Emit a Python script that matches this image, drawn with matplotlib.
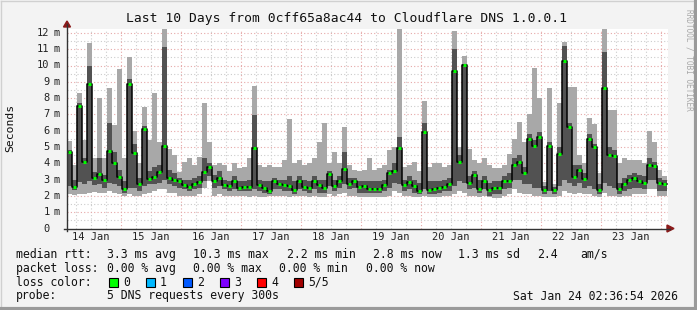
import matplotlib
matplotlib.use("Agg")
import matplotlib.pyplot as plt
from matplotlib.patches import Polygon, Rectangle
from matplotlib.lines import Line2D
import numpy as np

# smokeping style graph, 2h buckets, hours counted from 14 Jan 00:00
t0 = 2.6
step = 2.0

# light smoke (min..max), dark smoke, median -- all in ms
lo = [2.1, 2.05, 2.1, 2.1, 2.2, 2.25, 2.2, 2.2, 2.3, 2.2, 2.1, 2.0, 2.1, 2.0, 2.0, 2.1, 2.2, 2.3, 2.4, 2.4,
      2.2, 2.2, 2.0, 2.0, 2.0, 2.0, 2.1, 2.5, 2.9, 2.0, 2.1, 2.0, 2.0, 2.0, 2.0, 2.0, 1.95, 2.0, 1.95, 1.95,
      2.0, 2.0, 2.0, 2.0, 1.95, 2.0, 2.0, 2.0, 1.95, 2.0, 1.95, 1.95, 2.1, 2.0, 2.1, 2.2, 2.0, 2.0, 1.95, 1.95,
      1.95, 1.95, 1.95, 1.95, 2.0, 2.3, 2.2, 2.0, 2.0, 1.95, 1.95, 2.0, 1.95, 1.95, 1.95, 2.0, 2.0, 2.1, 2.3, 2.2,
      2.0, 2.0, 1.95, 2.0, 1.95, 1.9, 1.9, 2.0, 2.1, 2.4, 2.2, 2.1, 2.1, 2.0, 2.0, 1.95, 1.95, 1.95, 2.0, 2.3,
      2.2, 2.1, 2.2, 2.1, 2.1, 2.0, 1.95, 2.2, 2.0, 2.0, 1.95, 2.0, 2.0, 2.1, 2.1, 2.1, 2.4, 2.4, 2.0, 2.0]
dlo = [2.6, 2.35, 2.85, 2.7, 2.9, 2.65, 2.7, 2.5, 2.8, 2.7, 2.6, 2.2, 2.5, 2.5, 2.3, 2.6, 2.7, 2.7, 2.8, 3.0,
       2.7, 2.6, 2.5, 2.4, 2.3, 2.4, 2.5, 2.9, 3.2, 2.5, 2.6, 2.4, 2.3, 2.4, 2.3, 2.3, 2.3, 2.4, 2.3, 2.2,
       2.1, 2.4, 2.4, 2.3, 2.3, 2.1, 2.4, 2.3, 2.2, 2.4, 2.2, 2.2, 2.6, 2.3, 2.5, 2.7, 2.4, 2.5, 2.2, 2.2,
       2.2, 2.2, 2.2, 2.3, 2.5, 2.8, 2.7, 2.3, 2.4, 2.2, 2.1, 2.4, 2.1, 2.1, 2.2, 2.3, 2.3, 2.6, 2.9, 2.8,
       2.4, 2.5, 2.2, 2.4, 2.0, 2.1, 2.1, 2.4, 2.5, 3.0, 3.0, 2.7, 2.7, 2.5, 2.5, 2.1, 2.3, 2.1, 2.6, 3.0,
       2.8, 2.6, 2.8, 2.5, 2.6, 2.4, 2.1, 2.8, 2.6, 2.5, 2.1, 2.3, 2.4, 2.5, 2.5, 2.4, 3.0, 3.0, 2.3, 2.3]
med = [4.7, 2.55, 7.5, 4.1, 8.85, 3.1, 3.35, 2.95, 4.75, 4.0, 3.15, 2.45, 8.85, 4.65, 2.75, 6.1, 3.05, 3.15, 3.45, 5.05,
       3.1, 3.0, 2.9, 2.65, 2.55, 2.75, 2.85, 3.45, 3.8, 2.9, 3.1, 2.65, 2.6, 2.9, 2.5, 2.55, 2.55, 4.95, 2.65, 2.5,
       2.3, 2.9, 2.7, 2.65, 2.6, 2.35, 2.9, 2.55, 2.5, 2.9, 2.65, 2.5, 3.35, 2.6, 2.9, 3.65, 2.75, 2.9, 2.55, 2.6,
       2.4, 2.45, 2.45, 2.65, 3.4, 3.55, 4.95, 2.65, 2.85, 2.6, 2.3, 5.95, 2.35, 2.4, 2.5, 2.55, 2.7, 9.65, 4.1, 10.05,
       2.8, 3.3, 2.45, 2.9, 2.35, 2.5, 2.5, 2.9, 2.9, 3.9, 4.1, 3.4, 5.5, 5.05, 5.6, 2.35, 5.05, 2.35, 4.6, 10.3,
       6.25, 3.15, 3.6, 3.05, 5.5, 5.0, 2.35, 8.6, 4.5, 4.45, 2.4, 2.75, 2.95, 3.1, 2.9, 2.8, 3.9, 3.85, 2.8, 2.75]
dhi = [4.8, 2.95, 7.7, 4.3, 10.0, 3.45, 4.3, 3.3, 6.45, 4.7, 3.6, 2.9, 9.2, 5.2, 3.1, 6.3, 3.5, 3.8, 3.9, 11.15,
       3.6, 3.4, 3.1, 3.0, 2.95, 3.1, 3.2, 4.3, 4.0, 3.3, 3.5, 3.0, 2.9, 3.2, 2.9, 2.9, 3.0, 6.95, 3.0, 2.9,
       2.9, 3.1, 3.0, 3.0, 3.2, 2.9, 3.2, 3.0, 2.9, 3.2, 3.0, 3.0, 3.5, 3.0, 3.2, 4.7, 3.1, 3.1, 2.9, 2.9,
       2.9, 2.9, 2.9, 3.0, 3.6, 4.0, 5.6, 3.0, 3.2, 3.0, 2.8, 6.45, 2.9, 2.9, 2.9, 3.0, 3.1, 11.0, 4.5, 10.1,
       3.2, 3.5, 3.0, 3.2, 2.8, 2.9, 2.9, 3.2, 3.4, 4.3, 4.5, 3.8, 5.8, 5.4, 5.9, 2.6, 5.3, 2.55, 5.0, 11.2,
       6.5, 3.9, 3.9, 3.4, 5.8, 5.2, 2.7, 10.85, 5.0, 4.8, 2.8, 3.1, 3.3, 3.4, 3.3, 3.2, 4.3, 4.1, 3.1, 3.0]
hi = [5.35, 3.9, 8.3, 5.4, 11.35, 4.3, 8.0, 4.3, 8.65, 6.35, 9.8, 4.3, 10.55, 6.0, 4.0, 7.45, 5.4, 8.3, 5.3, 12.4,
      4.9, 4.5, 3.45, 4.1, 4.3, 3.9, 4.4, 7.7, 5.3, 3.9, 4.0, 3.9, 3.5, 4.0, 3.7, 3.8, 4.3, 8.75, 3.9, 3.8,
      3.9, 3.8, 3.8, 4.2, 6.7, 4.0, 4.2, 3.9, 4.0, 4.3, 5.3, 6.5, 4.0, 4.7, 4.0, 6.25, 3.9, 3.6, 3.5, 3.6,
      4.3, 3.6, 3.7, 3.9, 4.8, 5.0, 12.4, 3.8, 3.9, 4.1, 3.5, 7.8, 3.8, 4.0, 4.0, 3.8, 3.9, 12.1, 5.0, 10.6,
      4.9, 4.2, 4.0, 4.3, 3.9, 3.7, 3.7, 3.9, 4.6, 5.5, 6.55, 5.3, 7.05, 9.85, 8.0, 2.85, 8.6, 2.75, 7.7, 11.45,
      8.7, 8.7, 4.5, 4.0, 6.8, 6.4, 3.4, 12.4, 7.3, 7.25, 4.0, 4.3, 4.2, 4.2, 4.2, 4.0, 6.0, 5.3, 3.6, 3.2]

day_labels = ["14 Jan", "15 Jan", "16 Jan", "17 Jan", "18 Jan",
              "19 Jan", "20 Jan", "21 Jan", "22 Jan", "23 Jan"]
loss_labels = ["0", "1", "2", "3", "4", "5/5"]
loss_colors = ["#00ff00", "#00b8ff", "#0059ff", "#7e00ff", "#ff0000", "#a10000"]

W, H = 697, 310
mono = "DejaVu Sans Mono"

def fx(x):
    return x / W

def fy(y):
    return 1 - y / H

fig = plt.figure(figsize=(W / 100, H / 100), dpi=100)
fig.patch.set_facecolor("#f3f3f3")

ax = fig.add_axes([fx(67), fy(228.5), 601 / W, 200 / H])
ax.set_facecolor("white")
ax.set_xlim(t0, t0 + 601 * 0.4)
ax.set_ylim(0, 200 / 16.3)
for s in ax.spines.values():
    s.set_visible(False)
ax.set_xticks([])
ax.set_yticks([])

# grid
for h in np.arange(6, 246, 6):
    if h % 24 == 0:
        ax.axvline(h, color="#e6a8a8", lw=0.8, ls=(0, (1, 2)), zorder=0.5)
    else:
        ax.axvline(h, color="#cccccc", lw=0.8, ls=(0, (1, 2)), zorder=0.4)
for v in np.arange(0.5, 12.5, 0.5):
    if v == int(v):
        ax.axhline(v, color="#e6a8a8", lw=0.8, ls=(0, (1, 2)), zorder=0.5)
    else:
        ax.axhline(v, color="#cccccc", lw=0.8, ls=(0, (1, 2)), zorder=0.4)

n = len(med)
t = t0 + step * np.arange(n + 1)
ext = lambda a: np.append(a, a[-1])

ax.fill_between(t, ext(lo), ext(hi), step="post", color="#a8a8a8", lw=0, zorder=2)
ax.fill_between(t, ext(dlo), ext(dhi), step="post", color="#525252", lw=0, zorder=3)
ax.step(t, ext(med), where="post", color="black", lw=1.1, zorder=4)
ax.hlines(med, t[:-1] + 0.4, t[1:] - 0.4, color=loss_colors[0], lw=2.2, zorder=5)

# x labels at noon
for i, lab in enumerate(day_labels):
    ax.text(12 + 24 * i, -8.5 / 200, lab, transform=ax.get_xaxis_transform(),
            ha="center", va="center", family=mono, fontsize=7.5, color="#222222")

# y labels
for v in range(0, 13):
    y = 228.5 - v * 16.3
    fig.text(fx(49.5), fy(y), str(v), ha="right", va="center", family=mono,
             fontsize=7.5, color="#222222")
    if v > 0:
        fig.text(fx(54), fy(y), "m", ha="left", va="center", family=mono,
                 fontsize=7.5, color="#222222")

# axis lines with arrows
fig.add_artist(Line2D([fx(67), fx(67)], [fy(231), fy(24)], color="#333333", lw=1))
fig.add_artist(Line2D([fx(64), fx(670)], [fy(228.5), fy(228.5)], color="#333333", lw=1))
fig.add_artist(Polygon([(fx(63.5), fy(27)), (fx(70.5), fy(27)), (fx(67), fy(21))],
                       closed=True, color="#8b1a1a", transform=fig.transFigure))
fig.add_artist(Polygon([(fx(667), fy(225)), (fx(667), fy(232)), (fx(674), fy(228.5))],
                       closed=True, color="#8b1a1a", transform=fig.transFigure))

fig.text(fx(347), fy(18.5), "Last 10 Days from 0cff65a8ac44 to Cloudflare DNS 1.0.0.1",
         ha="center", va="center", family=mono, fontsize=9.4, color="#111111")
fig.text(fx(10), fy(128), "Seconds", rotation=90, ha="center", va="center",
         family=mono, fontsize=8.2, color="#111111")
fig.text(fx(688.5), fy(60), "RRDTOOL / TOBI OETIKER", rotation=-90, ha="center",
         va="center", family=mono, fontsize=5.6, color="#a8a8a8")

# legend rows
fs = 8.3
rows = [
    (254.3, [(16, "median rtt:"), (107, "3.3 ms avg"), (193, "10.3 ms max"), (287, "2.2 ms min"),
             (373, "2.8 ms now"), (458, "1.3 ms sd"), (537, "2.4"), (580, "am/s")]),
    (268.3, [(16, "packet loss:"), (107, "0.00 % avg"), (193, "0.00 % max"), (279, "0.00 % min"),
             (366, "0.00 % now")]),
    (282.3, [(16, "loss color:")]),
    (296.0, [(16, "probe:"), (107, "5 DNS requests every 300s"), (513, "Sat Jan 24 02:36:54 2026")]),
]
for y, parts in rows:
    for x, s in parts:
        fig.text(fx(x), fy(y), s, ha="left", va="center", family=mono, fontsize=fs, color="#111111")

sq_x = [109, 146, 183, 220, 257, 294]
for x, lab, c in zip(sq_x, loss_labels, loss_colors):
    fig.add_artist(Rectangle((fx(x), fy(287)), 9 / W, 9 / H, facecolor=c,
                             edgecolor="black", lw=0.8, transform=fig.transFigure))
    fig.text(fx(x + 14), fy(282.3), lab, ha="left", va="center", family=mono,
             fontsize=fs, color="#111111")

# frame
fig.add_artist(Line2D([fx(0.5), fx(696.5)], [fy(0.5), fy(0.5)], color="#d0d0d0", lw=1))
fig.add_artist(Line2D([fx(0.5), fx(0.5)], [fy(0.5), fy(309.5)], color="#d0d0d0", lw=1))
fig.add_artist(Line2D([fx(0), fx(697)], [fy(308.5), fy(308.5)], color="#9a9a9a", lw=3))
fig.add_artist(Line2D([fx(695.5), fx(695.5)], [fy(0), fy(310)], color="#9a9a9a", lw=3))

fig.savefig("out.png", dpi=100, facecolor=fig.get_facecolor())
